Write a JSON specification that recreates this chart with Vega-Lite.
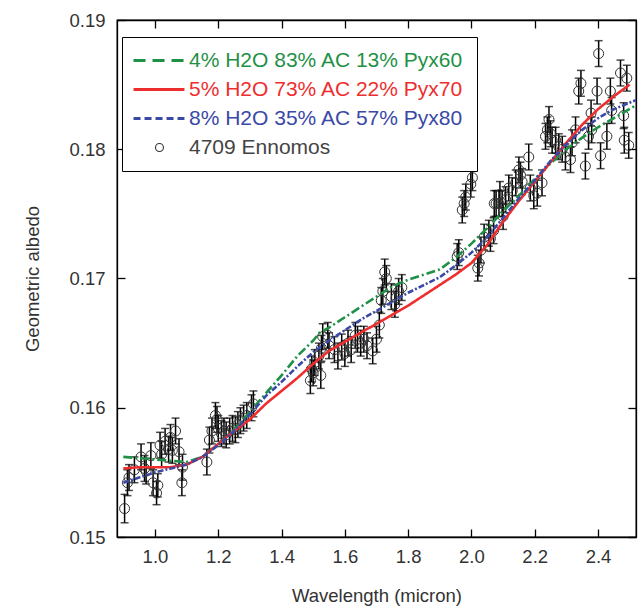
{
  "$schema": "https://vega.github.io/schema/vega-lite/v6.json",
  "width": 519,
  "height": 517,
  "autosize": {"type": "none"},
  "padding": {"left": 117, "top": 20, "right": 8, "bottom": 71},
  "background": "white",
  "config": {
    "view": {"stroke": "black", "strokeWidth": 1.3},
    "font": "Liberation Sans",
    "axis": {"grid": false, "domainColor": "black", "domainWidth": 1.3, "tickColor": "black", "tickWidth": 1.3, "tickSize": -8, "labelFont": "Liberation Sans", "labelFontSize": 18.5, "labelColor": "#333", "titleFont": "Liberation Sans", "titleFontSize": 18.5, "titleFontWeight": "normal", "titleColor": "#333"}
  },
  "datasets": {
    "models": [
      {"series": "4% H2O 83% AC 13% Pyx60", "x": 0.9, "y": 0.1562},
      {"series": "4% H2O 83% AC 13% Pyx60", "x": 0.95, "y": 0.1561},
      {"series": "4% H2O 83% AC 13% Pyx60", "x": 1.0, "y": 0.156},
      {"series": "4% H2O 83% AC 13% Pyx60", "x": 1.05, "y": 0.1559},
      {"series": "4% H2O 83% AC 13% Pyx60", "x": 1.1, "y": 0.1558},
      {"series": "4% H2O 83% AC 13% Pyx60", "x": 1.15, "y": 0.1562},
      {"series": "4% H2O 83% AC 13% Pyx60", "x": 1.2, "y": 0.1572},
      {"series": "4% H2O 83% AC 13% Pyx60", "x": 1.25, "y": 0.1583},
      {"series": "4% H2O 83% AC 13% Pyx60", "x": 1.3, "y": 0.1597},
      {"series": "4% H2O 83% AC 13% Pyx60", "x": 1.35, "y": 0.1611},
      {"series": "4% H2O 83% AC 13% Pyx60", "x": 1.4, "y": 0.1625},
      {"series": "4% H2O 83% AC 13% Pyx60", "x": 1.45, "y": 0.164},
      {"series": "4% H2O 83% AC 13% Pyx60", "x": 1.5, "y": 0.1652},
      {"series": "4% H2O 83% AC 13% Pyx60", "x": 1.52, "y": 0.1658},
      {"series": "4% H2O 83% AC 13% Pyx60", "x": 1.55, "y": 0.1662},
      {"series": "4% H2O 83% AC 13% Pyx60", "x": 1.6, "y": 0.167},
      {"series": "4% H2O 83% AC 13% Pyx60", "x": 1.65, "y": 0.1678},
      {"series": "4% H2O 83% AC 13% Pyx60", "x": 1.7, "y": 0.1686},
      {"series": "4% H2O 83% AC 13% Pyx60", "x": 1.75, "y": 0.1694},
      {"series": "4% H2O 83% AC 13% Pyx60", "x": 1.8, "y": 0.1699},
      {"series": "4% H2O 83% AC 13% Pyx60", "x": 1.85, "y": 0.1703},
      {"series": "4% H2O 83% AC 13% Pyx60", "x": 1.9, "y": 0.1707},
      {"series": "4% H2O 83% AC 13% Pyx60", "x": 1.95, "y": 0.1716},
      {"series": "4% H2O 83% AC 13% Pyx60", "x": 2.0, "y": 0.1727},
      {"series": "4% H2O 83% AC 13% Pyx60", "x": 2.05, "y": 0.1739},
      {"series": "4% H2O 83% AC 13% Pyx60", "x": 2.1, "y": 0.1752},
      {"series": "4% H2O 83% AC 13% Pyx60", "x": 2.15, "y": 0.1764},
      {"series": "4% H2O 83% AC 13% Pyx60", "x": 2.2, "y": 0.1777},
      {"series": "4% H2O 83% AC 13% Pyx60", "x": 2.25, "y": 0.1789},
      {"series": "4% H2O 83% AC 13% Pyx60", "x": 2.3, "y": 0.18},
      {"series": "4% H2O 83% AC 13% Pyx60", "x": 2.35, "y": 0.1809},
      {"series": "4% H2O 83% AC 13% Pyx60", "x": 2.4, "y": 0.1817},
      {"series": "4% H2O 83% AC 13% Pyx60", "x": 2.45, "y": 0.1824},
      {"series": "4% H2O 83% AC 13% Pyx60", "x": 2.52, "y": 0.1834},
      {"series": "5% H2O 73% AC 22% Pyx70", "x": 0.9, "y": 0.1553},
      {"series": "5% H2O 73% AC 22% Pyx70", "x": 0.95, "y": 0.1554},
      {"series": "5% H2O 73% AC 22% Pyx70", "x": 1.0, "y": 0.1554},
      {"series": "5% H2O 73% AC 22% Pyx70", "x": 1.05, "y": 0.1554},
      {"series": "5% H2O 73% AC 22% Pyx70", "x": 1.1, "y": 0.1556},
      {"series": "5% H2O 73% AC 22% Pyx70", "x": 1.15, "y": 0.1562},
      {"series": "5% H2O 73% AC 22% Pyx70", "x": 1.2, "y": 0.1572},
      {"series": "5% H2O 73% AC 22% Pyx70", "x": 1.25, "y": 0.1582},
      {"series": "5% H2O 73% AC 22% Pyx70", "x": 1.3, "y": 0.1591},
      {"series": "5% H2O 73% AC 22% Pyx70", "x": 1.35, "y": 0.1603},
      {"series": "5% H2O 73% AC 22% Pyx70", "x": 1.4, "y": 0.1613},
      {"series": "5% H2O 73% AC 22% Pyx70", "x": 1.45, "y": 0.1623},
      {"series": "5% H2O 73% AC 22% Pyx70", "x": 1.5, "y": 0.1634},
      {"series": "5% H2O 73% AC 22% Pyx70", "x": 1.55, "y": 0.1644},
      {"series": "5% H2O 73% AC 22% Pyx70", "x": 1.6, "y": 0.1651},
      {"series": "5% H2O 73% AC 22% Pyx70", "x": 1.65, "y": 0.1658},
      {"series": "5% H2O 73% AC 22% Pyx70", "x": 1.7, "y": 0.1665},
      {"series": "5% H2O 73% AC 22% Pyx70", "x": 1.75, "y": 0.1672},
      {"series": "5% H2O 73% AC 22% Pyx70", "x": 1.8, "y": 0.1679},
      {"series": "5% H2O 73% AC 22% Pyx70", "x": 1.85, "y": 0.1687},
      {"series": "5% H2O 73% AC 22% Pyx70", "x": 1.9, "y": 0.1695},
      {"series": "5% H2O 73% AC 22% Pyx70", "x": 1.95, "y": 0.1703},
      {"series": "5% H2O 73% AC 22% Pyx70", "x": 2.0, "y": 0.1712},
      {"series": "5% H2O 73% AC 22% Pyx70", "x": 2.05, "y": 0.1726},
      {"series": "5% H2O 73% AC 22% Pyx70", "x": 2.1, "y": 0.1744},
      {"series": "5% H2O 73% AC 22% Pyx70", "x": 2.15, "y": 0.176},
      {"series": "5% H2O 73% AC 22% Pyx70", "x": 2.2, "y": 0.1775},
      {"series": "5% H2O 73% AC 22% Pyx70", "x": 2.25, "y": 0.179},
      {"series": "5% H2O 73% AC 22% Pyx70", "x": 2.3, "y": 0.1805},
      {"series": "5% H2O 73% AC 22% Pyx70", "x": 2.35, "y": 0.1819},
      {"series": "5% H2O 73% AC 22% Pyx70", "x": 2.4, "y": 0.1831},
      {"series": "5% H2O 73% AC 22% Pyx70", "x": 2.45, "y": 0.1841},
      {"series": "5% H2O 73% AC 22% Pyx70", "x": 2.5, "y": 0.185},
      {"series": "8% H2O 35% AC 57% Pyx80", "x": 0.9, "y": 0.1542},
      {"series": "8% H2O 35% AC 57% Pyx80", "x": 0.95, "y": 0.1546},
      {"series": "8% H2O 35% AC 57% Pyx80", "x": 1.0, "y": 0.155},
      {"series": "8% H2O 35% AC 57% Pyx80", "x": 1.05, "y": 0.1553},
      {"series": "8% H2O 35% AC 57% Pyx80", "x": 1.1, "y": 0.1556},
      {"series": "8% H2O 35% AC 57% Pyx80", "x": 1.15, "y": 0.1562},
      {"series": "8% H2O 35% AC 57% Pyx80", "x": 1.2, "y": 0.1571},
      {"series": "8% H2O 35% AC 57% Pyx80", "x": 1.25, "y": 0.1582},
      {"series": "8% H2O 35% AC 57% Pyx80", "x": 1.3, "y": 0.1595},
      {"series": "8% H2O 35% AC 57% Pyx80", "x": 1.35, "y": 0.1609},
      {"series": "8% H2O 35% AC 57% Pyx80", "x": 1.4, "y": 0.162},
      {"series": "8% H2O 35% AC 57% Pyx80", "x": 1.45, "y": 0.1632},
      {"series": "8% H2O 35% AC 57% Pyx80", "x": 1.5, "y": 0.1643},
      {"series": "8% H2O 35% AC 57% Pyx80", "x": 1.55, "y": 0.1652},
      {"series": "8% H2O 35% AC 57% Pyx80", "x": 1.6, "y": 0.166},
      {"series": "8% H2O 35% AC 57% Pyx80", "x": 1.65, "y": 0.1668},
      {"series": "8% H2O 35% AC 57% Pyx80", "x": 1.7, "y": 0.1675},
      {"series": "8% H2O 35% AC 57% Pyx80", "x": 1.75, "y": 0.1682},
      {"series": "8% H2O 35% AC 57% Pyx80", "x": 1.8, "y": 0.1689},
      {"series": "8% H2O 35% AC 57% Pyx80", "x": 1.85, "y": 0.1695},
      {"series": "8% H2O 35% AC 57% Pyx80", "x": 1.9, "y": 0.1701},
      {"series": "8% H2O 35% AC 57% Pyx80", "x": 1.95, "y": 0.171},
      {"series": "8% H2O 35% AC 57% Pyx80", "x": 2.0, "y": 0.172},
      {"series": "8% H2O 35% AC 57% Pyx80", "x": 2.05, "y": 0.1732},
      {"series": "8% H2O 35% AC 57% Pyx80", "x": 2.1, "y": 0.1747},
      {"series": "8% H2O 35% AC 57% Pyx80", "x": 2.15, "y": 0.1762},
      {"series": "8% H2O 35% AC 57% Pyx80", "x": 2.2, "y": 0.1776},
      {"series": "8% H2O 35% AC 57% Pyx80", "x": 2.25, "y": 0.1791},
      {"series": "8% H2O 35% AC 57% Pyx80", "x": 2.3, "y": 0.1804},
      {"series": "8% H2O 35% AC 57% Pyx80", "x": 2.35, "y": 0.1815},
      {"series": "8% H2O 35% AC 57% Pyx80", "x": 2.4, "y": 0.1824},
      {"series": "8% H2O 35% AC 57% Pyx80", "x": 2.45, "y": 0.1831},
      {"series": "8% H2O 35% AC 57% Pyx80", "x": 2.52, "y": 0.1838}
    ],
    "obs": [
      {"x": 0.904, "y": 0.1522, "lo": 0.1511, "hi": 0.1533},
      {"x": 0.913, "y": 0.1542, "lo": 0.1532, "hi": 0.1552},
      {"x": 0.918, "y": 0.1546, "lo": 0.1536, "hi": 0.1556},
      {"x": 0.935, "y": 0.1552, "lo": 0.1542, "hi": 0.1562},
      {"x": 0.956, "y": 0.1562, "lo": 0.1552, "hi": 0.1572},
      {"x": 0.967, "y": 0.1553, "lo": 0.1543, "hi": 0.1563},
      {"x": 0.972, "y": 0.1551, "lo": 0.1541, "hi": 0.1561},
      {"x": 0.987, "y": 0.1563, "lo": 0.1553, "hi": 0.1573},
      {"x": 0.994, "y": 0.1542, "lo": 0.1532, "hi": 0.1552},
      {"x": 1.005, "y": 0.1534, "lo": 0.1525, "hi": 0.1543},
      {"x": 1.009, "y": 0.154, "lo": 0.1531, "hi": 0.1549},
      {"x": 1.016, "y": 0.1571, "lo": 0.1561, "hi": 0.1581},
      {"x": 1.021, "y": 0.1564, "lo": 0.1554, "hi": 0.1574},
      {"x": 1.032, "y": 0.1574, "lo": 0.1564, "hi": 0.1584},
      {"x": 1.043, "y": 0.1568, "lo": 0.1558, "hi": 0.1578},
      {"x": 1.049, "y": 0.1577, "lo": 0.1567, "hi": 0.1587},
      {"x": 1.055, "y": 0.1567, "lo": 0.1557, "hi": 0.1577},
      {"x": 1.065, "y": 0.1582, "lo": 0.1572, "hi": 0.1592},
      {"x": 1.076, "y": 0.1566, "lo": 0.1556, "hi": 0.1576},
      {"x": 1.087, "y": 0.1554, "lo": 0.1544, "hi": 0.1564},
      {"x": 1.085, "y": 0.1542, "lo": 0.1532, "hi": 0.1552},
      {"x": 1.164, "y": 0.1558, "lo": 0.1548, "hi": 0.1568},
      {"x": 1.172, "y": 0.1575, "lo": 0.1565, "hi": 0.1585},
      {"x": 1.18, "y": 0.1582, "lo": 0.1572, "hi": 0.1592},
      {"x": 1.191, "y": 0.1594, "lo": 0.1584, "hi": 0.1604},
      {"x": 1.196, "y": 0.1591, "lo": 0.1581, "hi": 0.1601},
      {"x": 1.2, "y": 0.1584, "lo": 0.1574, "hi": 0.1594},
      {"x": 1.21, "y": 0.158, "lo": 0.157, "hi": 0.159},
      {"x": 1.218, "y": 0.1582, "lo": 0.1572, "hi": 0.1592},
      {"x": 1.225, "y": 0.1579, "lo": 0.1569, "hi": 0.1589},
      {"x": 1.236, "y": 0.1582, "lo": 0.1572, "hi": 0.1592},
      {"x": 1.245, "y": 0.1584, "lo": 0.1574, "hi": 0.1594},
      {"x": 1.254, "y": 0.1583, "lo": 0.1573, "hi": 0.1593},
      {"x": 1.262, "y": 0.1587, "lo": 0.1577, "hi": 0.1597},
      {"x": 1.27, "y": 0.159, "lo": 0.158, "hi": 0.16},
      {"x": 1.28, "y": 0.1592, "lo": 0.1582, "hi": 0.1602},
      {"x": 1.29, "y": 0.1594, "lo": 0.1584, "hi": 0.1604},
      {"x": 1.305, "y": 0.16, "lo": 0.159, "hi": 0.161},
      {"x": 1.311, "y": 0.1603, "lo": 0.1593, "hi": 0.1613},
      {"x": 1.491, "y": 0.1621, "lo": 0.1611, "hi": 0.1631},
      {"x": 1.495, "y": 0.163, "lo": 0.162, "hi": 0.164},
      {"x": 1.5, "y": 0.1627, "lo": 0.1617, "hi": 0.1637},
      {"x": 1.505, "y": 0.1635, "lo": 0.1625, "hi": 0.1645},
      {"x": 1.518, "y": 0.164, "lo": 0.163, "hi": 0.165},
      {"x": 1.524, "y": 0.1625, "lo": 0.1615, "hi": 0.1635},
      {"x": 1.526, "y": 0.1646, "lo": 0.1636, "hi": 0.1656},
      {"x": 1.53, "y": 0.1655, "lo": 0.1645, "hi": 0.1665},
      {"x": 1.546, "y": 0.1656, "lo": 0.1646, "hi": 0.1666},
      {"x": 1.55, "y": 0.1648, "lo": 0.1638, "hi": 0.1658},
      {"x": 1.567, "y": 0.1645, "lo": 0.1635, "hi": 0.1655},
      {"x": 1.578, "y": 0.164, "lo": 0.163, "hi": 0.165},
      {"x": 1.59, "y": 0.1647, "lo": 0.1637, "hi": 0.1657},
      {"x": 1.6, "y": 0.1642, "lo": 0.1632, "hi": 0.1652},
      {"x": 1.61, "y": 0.165, "lo": 0.164, "hi": 0.166},
      {"x": 1.62, "y": 0.1645, "lo": 0.1635, "hi": 0.1655},
      {"x": 1.633, "y": 0.1656, "lo": 0.1646, "hi": 0.1666},
      {"x": 1.64, "y": 0.1653, "lo": 0.1643, "hi": 0.1663},
      {"x": 1.65, "y": 0.165, "lo": 0.164, "hi": 0.166},
      {"x": 1.66, "y": 0.1653, "lo": 0.1643, "hi": 0.1663},
      {"x": 1.67, "y": 0.1648, "lo": 0.1638, "hi": 0.1658},
      {"x": 1.688, "y": 0.1644, "lo": 0.1634, "hi": 0.1654},
      {"x": 1.7, "y": 0.1653, "lo": 0.1643, "hi": 0.1663},
      {"x": 1.709, "y": 0.1664, "lo": 0.1654, "hi": 0.1674},
      {"x": 1.715, "y": 0.1683, "lo": 0.1673, "hi": 0.1693},
      {"x": 1.72, "y": 0.169, "lo": 0.168, "hi": 0.17},
      {"x": 1.726, "y": 0.1705, "lo": 0.1695, "hi": 0.1715},
      {"x": 1.731, "y": 0.17, "lo": 0.169, "hi": 0.171},
      {"x": 1.747, "y": 0.1686, "lo": 0.1676, "hi": 0.1696},
      {"x": 1.758, "y": 0.168, "lo": 0.167, "hi": 0.169},
      {"x": 1.762, "y": 0.1685, "lo": 0.1675, "hi": 0.1695},
      {"x": 1.77, "y": 0.169, "lo": 0.168, "hi": 0.17},
      {"x": 1.78, "y": 0.1693, "lo": 0.1683, "hi": 0.1703},
      {"x": 1.955, "y": 0.1717, "lo": 0.1707, "hi": 0.1727},
      {"x": 1.96, "y": 0.172, "lo": 0.171, "hi": 0.173},
      {"x": 1.971, "y": 0.1753, "lo": 0.1743, "hi": 0.1763},
      {"x": 1.977, "y": 0.1758, "lo": 0.1748, "hi": 0.1768},
      {"x": 1.982, "y": 0.1763, "lo": 0.1753, "hi": 0.1773},
      {"x": 1.998, "y": 0.1773, "lo": 0.1763, "hi": 0.1783},
      {"x": 2.003, "y": 0.1778, "lo": 0.1768, "hi": 0.1788},
      {"x": 2.02, "y": 0.1708, "lo": 0.1698, "hi": 0.1718},
      {"x": 2.024, "y": 0.1712, "lo": 0.1702, "hi": 0.1722},
      {"x": 2.03, "y": 0.1722, "lo": 0.1712, "hi": 0.1732},
      {"x": 2.04, "y": 0.1732, "lo": 0.1722, "hi": 0.1742},
      {"x": 2.055, "y": 0.1735, "lo": 0.1725, "hi": 0.1745},
      {"x": 2.06, "y": 0.1731, "lo": 0.1721, "hi": 0.1741},
      {"x": 2.07, "y": 0.1737, "lo": 0.1727, "hi": 0.1747},
      {"x": 2.072, "y": 0.1758, "lo": 0.1748, "hi": 0.1768},
      {"x": 2.078, "y": 0.1758, "lo": 0.1748, "hi": 0.1768},
      {"x": 2.087, "y": 0.1758, "lo": 0.1748, "hi": 0.1768},
      {"x": 2.09, "y": 0.1765, "lo": 0.1755, "hi": 0.1775},
      {"x": 2.097, "y": 0.1758, "lo": 0.1748, "hi": 0.1768},
      {"x": 2.1, "y": 0.1748, "lo": 0.1738, "hi": 0.1758},
      {"x": 2.108, "y": 0.1761, "lo": 0.1751, "hi": 0.1771},
      {"x": 2.118, "y": 0.177, "lo": 0.176, "hi": 0.178},
      {"x": 2.129, "y": 0.1768, "lo": 0.1758, "hi": 0.1778},
      {"x": 2.14, "y": 0.1774, "lo": 0.1764, "hi": 0.1784},
      {"x": 2.15, "y": 0.1784, "lo": 0.1774, "hi": 0.1794},
      {"x": 2.155, "y": 0.178, "lo": 0.177, "hi": 0.179},
      {"x": 2.16, "y": 0.1775, "lo": 0.1765, "hi": 0.1785},
      {"x": 2.181, "y": 0.1794, "lo": 0.1784, "hi": 0.1804},
      {"x": 2.186, "y": 0.177, "lo": 0.176, "hi": 0.178},
      {"x": 2.197, "y": 0.1764, "lo": 0.1754, "hi": 0.1774},
      {"x": 2.208, "y": 0.1766, "lo": 0.1756, "hi": 0.1776},
      {"x": 2.223, "y": 0.1774, "lo": 0.1764, "hi": 0.1784},
      {"x": 2.234, "y": 0.181, "lo": 0.18, "hi": 0.182},
      {"x": 2.24, "y": 0.1815, "lo": 0.1805, "hi": 0.1825},
      {"x": 2.245, "y": 0.1823, "lo": 0.1813, "hi": 0.1833},
      {"x": 2.25, "y": 0.1812, "lo": 0.1802, "hi": 0.1822},
      {"x": 2.255, "y": 0.1807, "lo": 0.1797, "hi": 0.1817},
      {"x": 2.266, "y": 0.1807, "lo": 0.1797, "hi": 0.1817},
      {"x": 2.276, "y": 0.1802, "lo": 0.1792, "hi": 0.1812},
      {"x": 2.287, "y": 0.18, "lo": 0.179, "hi": 0.181},
      {"x": 2.297, "y": 0.1794, "lo": 0.1784, "hi": 0.1804},
      {"x": 2.313, "y": 0.1792, "lo": 0.1782, "hi": 0.1802},
      {"x": 2.318, "y": 0.1805, "lo": 0.1795, "hi": 0.1815},
      {"x": 2.329, "y": 0.1815, "lo": 0.1805, "hi": 0.1825},
      {"x": 2.339, "y": 0.1845, "lo": 0.1835, "hi": 0.1855},
      {"x": 2.346, "y": 0.1851, "lo": 0.1841, "hi": 0.1861},
      {"x": 2.36, "y": 0.1787, "lo": 0.1777, "hi": 0.1797},
      {"x": 2.37, "y": 0.181, "lo": 0.18, "hi": 0.182},
      {"x": 2.378, "y": 0.1828, "lo": 0.1818, "hi": 0.1838},
      {"x": 2.38, "y": 0.1815, "lo": 0.1805, "hi": 0.1825},
      {"x": 2.397, "y": 0.1845, "lo": 0.1835, "hi": 0.1855},
      {"x": 2.402, "y": 0.1874, "lo": 0.1864, "hi": 0.1884},
      {"x": 2.408, "y": 0.1795, "lo": 0.1785, "hi": 0.1805},
      {"x": 2.428, "y": 0.181, "lo": 0.18, "hi": 0.182},
      {"x": 2.439, "y": 0.1845, "lo": 0.1835, "hi": 0.1855},
      {"x": 2.443, "y": 0.183, "lo": 0.182, "hi": 0.184},
      {"x": 2.471, "y": 0.1859, "lo": 0.1849, "hi": 0.1869},
      {"x": 2.481, "y": 0.1826, "lo": 0.1816, "hi": 0.1836},
      {"x": 2.483, "y": 0.1807, "lo": 0.1797, "hi": 0.1817},
      {"x": 2.491, "y": 0.1855, "lo": 0.1845, "hi": 0.1865},
      {"x": 2.497, "y": 0.1803, "lo": 0.1793, "hi": 0.1813}
    ]
  },
  "resolve": {"axis": {"x": "independent", "y": "independent"}},
  "layer": [
    {
      "data": {"name": "obs"},
      "mark": {"type": "rule", "color": "black", "strokeWidth": 1.5},
      "encoding": {
        "x": {"field": "x", "type": "quantitative", "scale": {"domain": [0.88, 2.52], "nice": false, "zero": false},
              "axis": {"orient": "bottom", "values": [1.0, 1.2, 1.4, 1.6, 1.8, 2.0, 2.2, 2.4], "format": ".1f", "labelPadding": 18, "title": "Wavelength (micron)", "titlePadding": 21}},
        "y": {"field": "lo", "type": "quantitative", "scale": {"domain": [0.15, 0.19], "nice": false, "zero": false},
              "axis": {"orient": "left", "values": [0.15, 0.16, 0.17, 0.18, 0.19], "format": ".2f", "labelPadding": 20, "title": "Geometric albedo", "titlePadding": 26}},
        "y2": {"field": "hi"}
      }
    },
    {
      "data": {"name": "obs"},
      "mark": {"type": "tick", "orient": "horizontal", "size": 8, "thickness": 1.5, "color": "black"},
      "encoding": {
        "x": {"field": "x", "type": "quantitative", "axis": {"orient": "top", "values": [1.0, 1.2, 1.4, 1.6, 1.8, 2.0, 2.2, 2.4], "labels": false, "title": null}},
        "y": {"field": "lo", "type": "quantitative", "axis": {"orient": "right", "values": [0.15, 0.16, 0.17, 0.18, 0.19], "labels": false, "title": null}}
      }
    },
    {
      "data": {"name": "obs"},
      "mark": {"type": "tick", "orient": "horizontal", "size": 8, "thickness": 1.5, "color": "black"},
      "encoding": {
        "x": {"field": "x", "type": "quantitative", "axis": null},
        "y": {"field": "hi", "type": "quantitative", "axis": null}
      }
    },
    {
      "data": {"name": "obs"},
      "mark": {"type": "point", "shape": "circle", "filled": false, "size": 100, "stroke": "#333", "strokeWidth": 1, "opacity": 1},
      "encoding": {
        "x": {"field": "x", "type": "quantitative", "axis": null},
        "y": {"field": "y", "type": "quantitative", "axis": null}
      }
    },
    {
      "data": {"name": "models"},
      "mark": {"type": "line", "strokeWidth": 2.6},
      "encoding": {
        "x": {"field": "x", "type": "quantitative", "axis": null},
        "y": {"field": "y", "type": "quantitative", "axis": null},
        "color": {"field": "series", "type": "nominal",
          "scale": {"domain": ["4% H2O 83% AC 13% Pyx60", "5% H2O 73% AC 22% Pyx70", "8% H2O 35% AC 57% Pyx80", "4709 Ennomos"], "range": ["#1f9146", "#ee2e2e", "#3a48a6", "#333333"]},
          "legend": {
            "title": null, "orient": "none", "legendX": 5, "legendY": 17, "columns": 1, "direction": "vertical",
            "strokeColor": "black", "fillColor": "white", "padding": 13, "cornerRadius": 0,
            "symbolSize": 441, "symbolStrokeWidth": 3, "labelOffset": 33, "rowPadding": 7,
            "labelFont": "Liberation Sans", "labelFontSize": 21, "labelLimit": 400,
            "encode": {
              "symbols": {"update": {
                "shape": {"signal": "datum.value === '4709 Ennomos' ? 'M-1.14,0H0.95A0.38,0.38,0,1,1,1.71,0A0.38,0.38,0,1,1,0.95,0' : 'M-1.14,0H3.71'"},
                "stroke": {"signal": "datum.value === '4% H2O 83% AC 13% Pyx60' ? '#1f9146' : datum.value === '5% H2O 73% AC 22% Pyx70' ? '#ee2e2e' : datum.value === '8% H2O 35% AC 57% Pyx80' ? '#3a48a6' : '#222222'"},
                "strokeDash": {"signal": "datum.value === '4% H2O 83% AC 13% Pyx60' ? [12, 7] : datum.value === '8% H2O 35% AC 57% Pyx80' ? [7, 4] : datum.value === '4709 Ennomos' ? [0, 22, 200, 0] : [1, 0]"},
                "strokeWidth": {"signal": "datum.value === '4709 Ennomos' ? 1.1 : 3"},
                "fill": {"value": "transparent"},
                "opacity": {"value": 1}
              }},
              "labels": {"update": {
                "fill": {"signal": "datum.value === '4% H2O 83% AC 13% Pyx60' ? '#1f9146' : datum.value === '5% H2O 73% AC 22% Pyx70' ? '#ee2e2e' : datum.value === '8% H2O 35% AC 57% Pyx80' ? '#3a48a6' : '#444444'"}
              }}
            }
          }
        },
        "strokeDash": {"field": "series", "type": "nominal",
          "scale": {"domain": ["4% H2O 83% AC 13% Pyx60", "5% H2O 73% AC 22% Pyx70", "8% H2O 35% AC 57% Pyx80"], "range": [[9, 3, 2, 3], [1, 0], [6, 2, 2, 2]]},
          "legend": null}
      }
    }
  ]
}
